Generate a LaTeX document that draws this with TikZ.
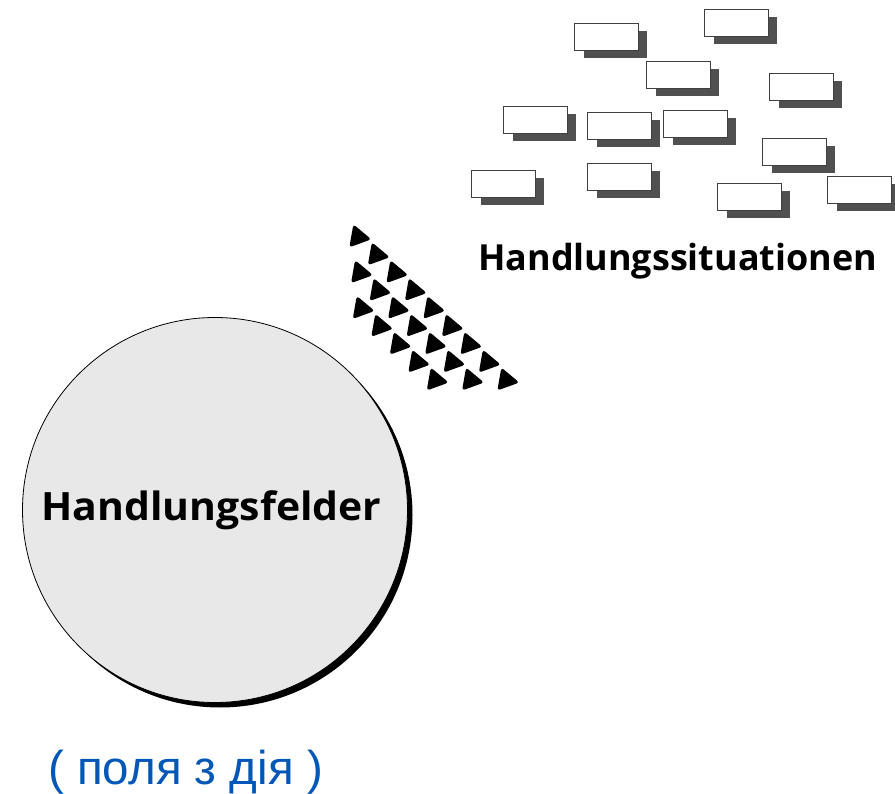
\documentclass[tikz,border=0pt]{standalone}
\usepackage{fontspec}
\usepackage{graphicx}
\setmainfont{Open Sans}
\newfontfamily\cyrfont{Liberation Sans}
\usetikzlibrary{shadows}
\definecolor{feldgrau}{RGB}{232,232,232}
\definecolor{schatten}{RGB}{80,80,80}
\definecolor{hinweisblau}{RGB}{0,87,184}
\tikzset{
  sitbox/.style={draw=black!75, line width=1pt, fill=white, anchor=north west,
    minimum width=63.5pt, minimum height=27.5pt, inner sep=0pt,
    drop shadow={shadow xshift=9pt, shadow yshift=-7.5pt, fill=schatten, opacity=1}},
  feld/.style={circle, draw=black, line width=0.8pt, fill=feldgrau, minimum size=385pt,
    inner sep=0pt, font=\bfseries\fontsize{39}{41}\selectfont,
    drop shadow={shadow xshift=5pt, shadow yshift=-5pt, fill=black, opacity=1}},
  spitze/.style={fill=black, rounded corners=3pt}
}
\begin{document}
\begin{tikzpicture}[x=1pt, y=-1pt]
\useasboundingbox (0,0) rectangle (895,794);
% Handlungsfelder
\node[feld] (felder) at (215,510) {\hspace*{-7pt}\scalebox{1.05}[1]{Handlungsfelder}};
% Handlungssituationen
\node[sitbox] (sit1) at (574,23) {};
\node[sitbox] (sit2) at (704,9) {};
\node[sitbox] (sit3) at (646,61) {};
\node[sitbox] (sit4) at (769,73) {};
\node[sitbox] (sit5) at (503,106) {};
\node[sitbox] (sit6) at (587,112) {};
\node[sitbox] (sit7) at (663,110) {};
\node[sitbox] (sit8) at (762,138) {};
\node[sitbox] (sit9) at (471,170) {};
\node[sitbox] (sit10) at (587,163) {};
\node[sitbox] (sit11) at (717,183) {};
\node[sitbox] (sit12) at (827,176) {};
\node[anchor=base west, inner sep=0pt, font=\bfseries\fontsize{38}{40}\selectfont] (situationen) at (478,271) {\resizebox{399pt}{!}{Handlungssituationen}};
% Pfeilspitzen
\foreach \k [evaluate=\k as \n using int(8-2*\k)] in {0,1,2}
  \foreach \i in {0,...,\n}
    \fill[spitze, shift={({358+1.7*\k+18.5*\i},{237+35.8*\k+17.9*\i})}]
      (10:13.5) -- (130:13.5) -- (250:13.5) -- cycle;
\node[anchor=base west, inner sep=0pt, text=hinweisblau, font=\cyrfont\fontsize{47.5}{50}\selectfont] (uebersetzung) at (48,784) {( поля з дія )};
\end{tikzpicture}
\end{document}
